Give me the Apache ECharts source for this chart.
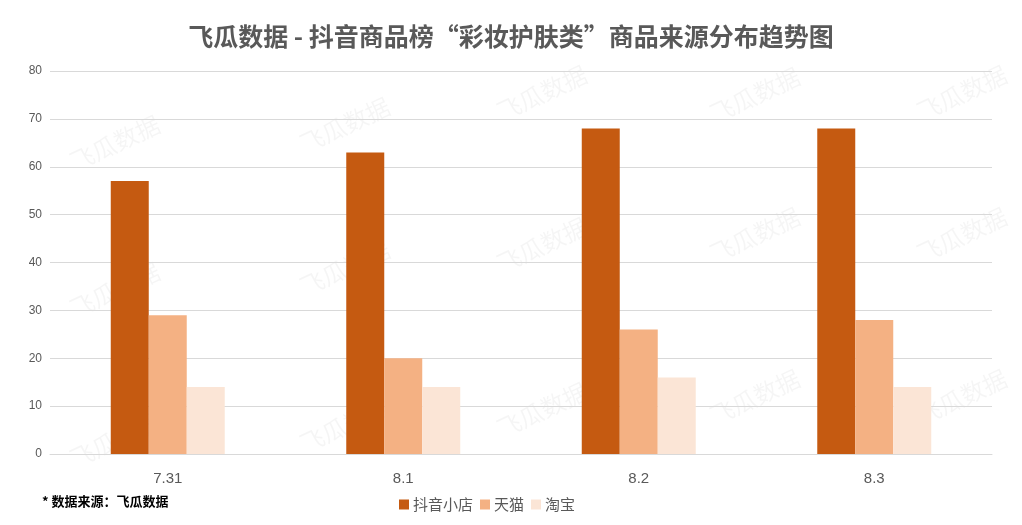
<!DOCTYPE html>
<html>
<head>
<meta charset="utf-8">
<script src="https://cdn.jsdelivr.net/npm/echarts@6/dist/echarts.min.js"></script>
<style>
html,body{margin:0;padding:0;background:#fff;}
#c{width:1022px;height:525px;}
</style>
</head>
<body>
<div id="c"></div>
<script>
const categories = ['7.31', '8.1', '8.2', '8.3'];
const douyinShop = [57, 63, 68, 68];
const tmall = [29, 20, 26, 28];
const taobao = [14, 14, 16, 14];
const seriesNames = ['抖音小店', '天猫', '淘宝'];
const yTicks = { min: 0, max: 80, interval: 10 };

const watermarkPos = [
  [115,143],[115,290],[115,440],
  [345,125],[345,268],[345,425],
  [542,93],[542,245],[542,410],
  [755,95],[755,235],[755,397],
  [962,93],[962,235],[962,397]
];

const chart = echarts.init(document.getElementById('c'));
const colors = ['#c55a11', '#f4b183', '#fbe5d6'];
const font = '"Noto Sans CJK SC", "Noto Sans", sans-serif';

chart.setOption({
  animation: false,
  backgroundColor: '#ffffff',
  title: {
    text: '飞瓜数据 - 抖音商品榜“彩妆护肤类”商品来源分布趋势图',
    left: 'center',
    top: 19,
    textStyle: { fontFamily: font, fontSize: 25, fontWeight: 'bold', color: '#595959' }
  },
  graphic: watermarkPos.map(p => ({
    type: 'text',
    x: p[0], y: p[1],
    rotation: 25 * Math.PI / 180,
    z: 0,
    silent: true,
    style: {
      text: '飞瓜数据',
      font: '24px "Noto Sans CJK SC", sans-serif',
      fill: 'rgba(0,0,0,0.04)',
      align: 'center',
      verticalAlign: 'middle'
    }
  })).concat([{
    type: 'text',
    left: 42, top: 495,
    z: 10,
    style: {
      text: '* 数据来源：飞瓜数据',
      font: 'bold 13px "Noto Sans CJK SC", sans-serif',
      fill: '#000000'
    }
  }]),
  legend: {
    data: seriesNames,
    left: 394,
    top: 492,
    itemWidth: 10,
    itemHeight: 10,
    itemGap: 7,
    icon: 'rect',
    textStyle: { fontFamily: font, fontSize: 15, color: '#595959', padding: [0, 0, 0, -1] }
  },
  grid: { left: 50, right: 30, top: 71, bottom: 71 },
  xAxis: {
    type: 'category',
    data: categories,
    axisLine: { lineStyle: { color: '#d9d9d9', width: 1 } },
    axisTick: { show: false },
    axisLabel: { fontFamily: 'Liberation Sans, Arial, sans-serif', fontSize: 15, color: '#595959', margin: 17 }
  },
  yAxis: {
    type: 'value',
    min: yTicks.min, max: yTicks.max, interval: yTicks.interval,
    axisLine: { show: false },
    axisTick: { show: false },
    splitLine: { lineStyle: { color: '#d9d9d9', width: 1 } },
    axisLabel: { fontFamily: 'Liberation Sans, Arial, sans-serif', fontSize: 12, color: '#595959', margin: 8 }
  },
  series: [
    { name: seriesNames[0], type: 'bar', data: douyinShop, itemStyle: { color: colors[0] }, barGap: '0%', barCategoryGap: '51.6%', z: 2 },
    { name: seriesNames[1], type: 'bar', data: tmall, itemStyle: { color: colors[1] }, barGap: '0%', barCategoryGap: '51.6%', z: 2 },
    { name: seriesNames[2], type: 'bar', data: taobao, itemStyle: { color: colors[2] }, barGap: '0%', barCategoryGap: '51.6%', z: 2 }
  ]
});
</script>
</body>
</html>
